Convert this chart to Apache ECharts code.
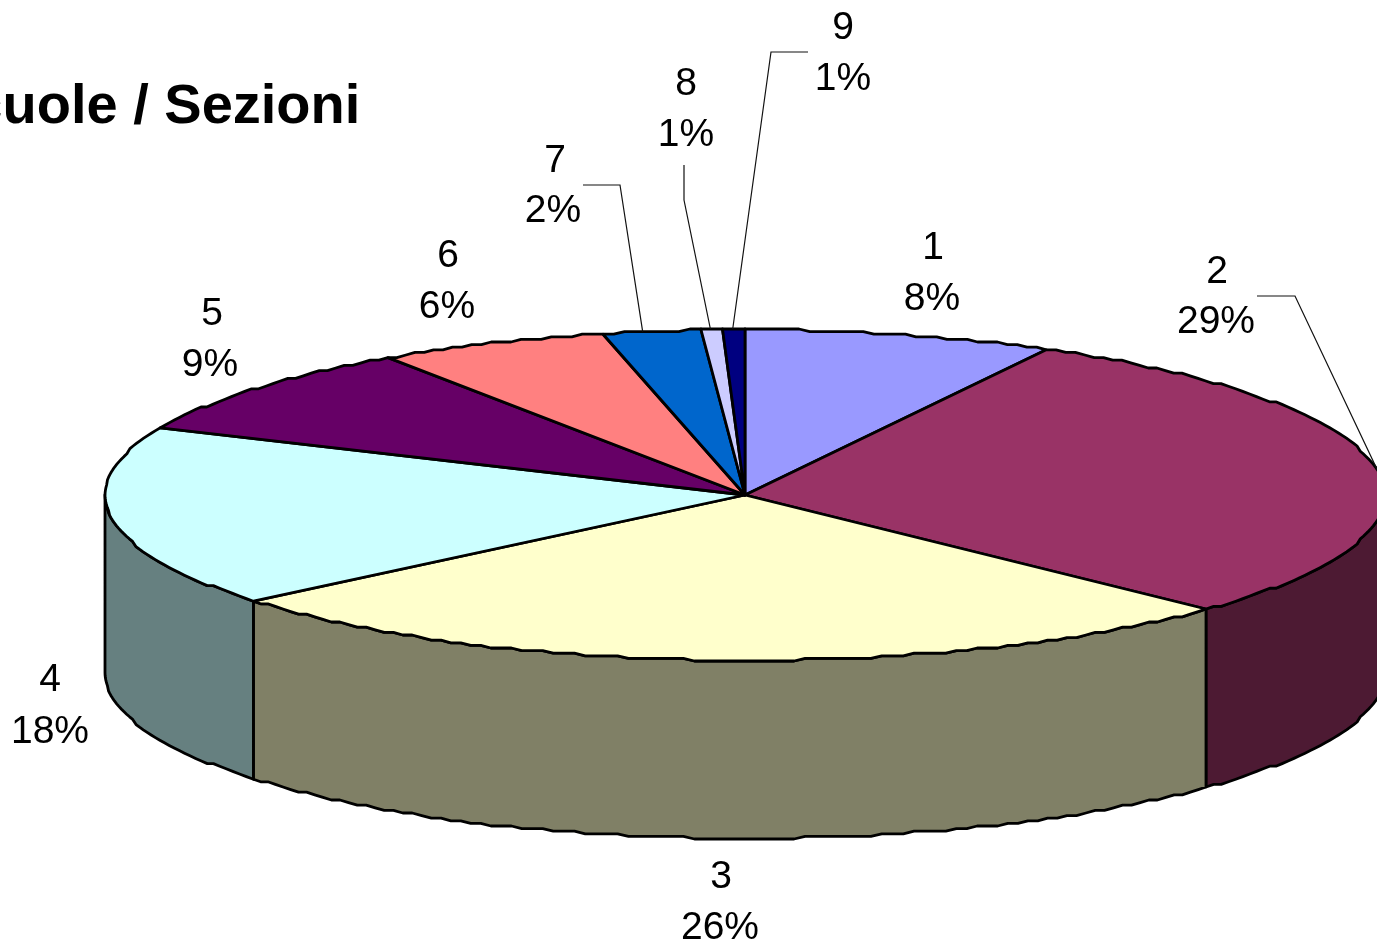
<!DOCTYPE html>
<html>
<head>
<meta charset="utf-8">
<style>html,body{margin:0;padding:0;background:#fff}#c{width:1377px;height:939px}</style>
<script src="https://cdn.jsdelivr.net/npm/echarts@6/dist/echarts.min.js"></script>
</head>
<body>
<div id="c"></div>
<script>
// Data
const titleText = 'Scuole / Sezioni';
const sliceNames = ['1', '2', '3', '4', '5', '6', '7', '8', '9'];
const sliceShares = [7.8, 29.4, 26.74, 17.73, 8.91, 5.86, 2.46, 0.54, 0.56];
const percentLabels = ['8%', '29%', '26%', '18%', '9%', '6%', '2%', '1%', '1%'];

// Styling and layout, kept apart from the data
const topColors = ['#9999FF', '#993366', '#FFFFCC', '#CCFFFF', '#660066', '#FF8080', '#0066CC', '#CCCCFF', '#000080'];
const wallColors = ['#4D4D80', '#4D1A33', '#808066', '#668080', '#330033', '#804040', '#003366', '#666680', '#000040'];
const FONT = '"Liberation Sans", Arial, sans-serif';
const DEPTH = 178 / 166;
const STEP = 2.6;
const labelLayout = [
  [933, 248, 932, 299], [1217, 272, 1216, 322], [721, 877, 720, 928],
  [50, 680, 50, 732], [212, 314, 210, 365], [448, 256, 447, 307],
  [555, 161, 553, 211], [686, 84, 686, 135], [843, 28, 843, 79]
];
const leaderLayout = {
  1: { via: [[1257, 296], [1295, 296]], deg: 81 },
  6: { via: [[583, 185], [620, 185]], deg: 350.8 },
  7: { via: [[684, 165], [684, 200]], deg: 356.9 },
  8: { via: [[808, 52], [771, 52]], deg: 358.9 }
};

let acc = 0;
const rows = sliceShares.map(function (v) { const r = [v, acc]; acc += v; return r; });

function geometry(api) {
  const c = api.coord([0, 0]);
  const e = api.coord([1, 1]);
  const ry = c[1] - e[1];
  const drop = api.coord([0, -DEPTH])[1] - c[1];
  function snap(off, r) {
    const d = r - Math.abs(off);
    const s = Math.max(0, Math.ceil((d - 0.66) / STEP)) * STEP;
    return (off < 0 ? -1 : 1) * (r - s);
  }
  function rim(deg, lower) {
    const t = deg * Math.PI / 180;
    const p = api.coord([Math.sin(t), Math.cos(t)]);
    return [p[0], c[1] + snap(p[1] - c[1], ry) + (lower ? drop : 0)];
  }
  function arc(a, b, lower) {
    const pts = [];
    const n = Math.max(1, Math.ceil(Math.abs(b - a)));
    for (let i = 0; i <= n; i++) pts.push(rim(a + (b - a) * i / n, lower));
    return pts;
  }
  return { c: c, rim: rim, arc: arc };
}

function renderWall(params, api) {
  const g = geometry(api);
  const a = Math.max(api.value(1) * 3.6, 90);
  const b = Math.min((api.value(1) + api.value(0)) * 3.6, 270);
  if (b <= a) return { type: 'group', children: [] };
  const pts = g.arc(a, b, false).concat(g.arc(b, a, true));
  return {
    type: 'polygon',
    shape: { points: pts },
    style: { fill: wallColors[params.dataIndex], stroke: '#000', lineWidth: 2.8, lineJoin: 'round' }
  };
}

function renderTop(params, api) {
  const g = geometry(api);
  const a = api.value(1) * 3.6;
  const b = (api.value(1) + api.value(0)) * 3.6;
  return {
    type: 'polygon',
    shape: { points: [g.c].concat(g.arc(a, b, false)) },
    style: { fill: topColors[params.dataIndex], stroke: '#000', lineWidth: 2.8, lineJoin: 'round' }
  };
}

function renderLabel(params, api) {
  const i = params.dataIndex;
  const g = geometry(api);
  const l = labelLayout[i];
  const txt = function (s, x, y) {
    return { type: 'text', style: { text: s, x: x, y: y, align: 'center', verticalAlign: 'middle', fill: '#000', font: '39px ' + FONT } };
  };
  const children = [txt(sliceNames[i], l[0], l[1]), txt(percentLabels[i], l[2], l[3])];
  const lead = leaderLayout[i];
  if (lead) {
    children.push({
      type: 'polyline',
      shape: { points: lead.via.concat([g.rim(lead.deg, false)]) },
      style: { fill: null, stroke: '#111', lineWidth: 1.2 }
    });
  }
  return { type: 'group', children: children };
}

const chart = echarts.init(document.getElementById('c'), null, { renderer: 'canvas' });
chart.setOption({
  animation: false,
  backgroundColor: '#fff',
  title: {
    text: titleText, left: -71, top: 75,
    textStyle: { fontFamily: FONT, fontWeight: 'bold', fontSize: 56, color: '#000' }
  },
  tooltip: { show: false },
  grid: { left: 105, top: 329, width: 1280, height: 332, outerBoundsMode: 'none' },
  xAxis: { type: 'value', min: -1, max: 1, show: false },
  yAxis: { type: 'value', min: -1, max: 1, show: false },
  series: [
    { type: 'custom', name: 'walls', z: 2, clip: false, silent: true, data: rows, encode: { x: -1, y: -1 }, renderItem: renderWall },
    { type: 'custom', name: 'tops', z: 3, clip: false, silent: true, data: rows, encode: { x: -1, y: -1 }, renderItem: renderTop },
    { type: 'custom', name: 'labels', z: 4, clip: false, silent: true, data: rows, encode: { x: -1, y: -1 }, renderItem: renderLabel }
  ]
});
</script>
</body>
</html>
